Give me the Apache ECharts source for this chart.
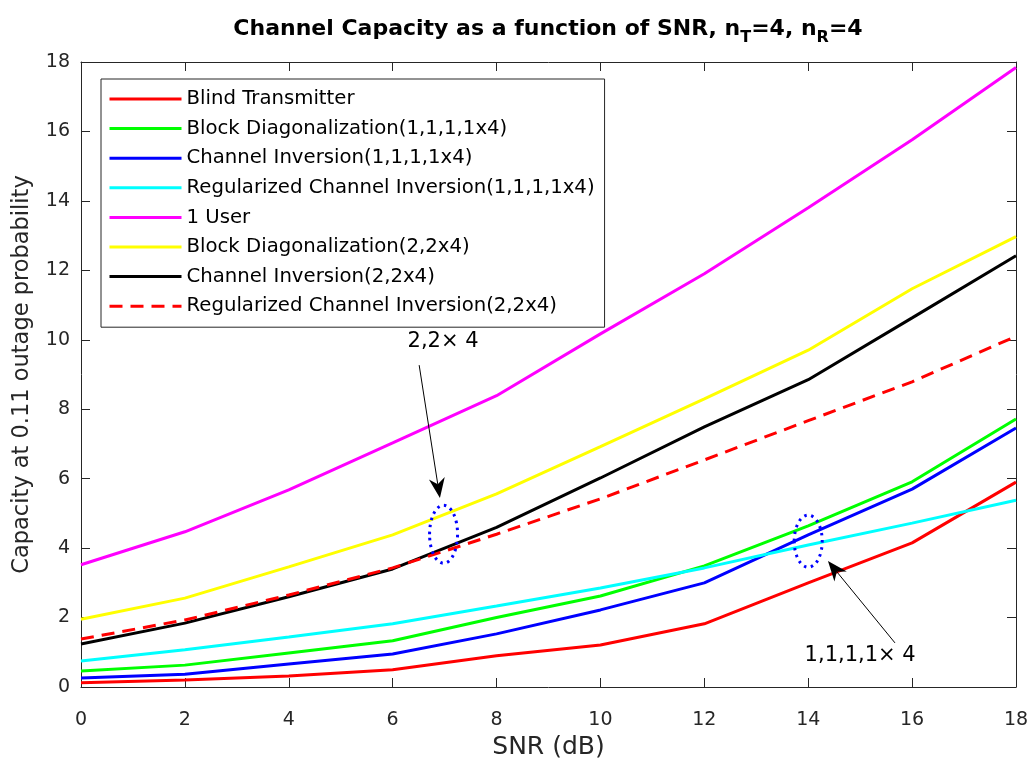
<!DOCTYPE html>
<html>
<head>
<meta charset="utf-8">
<script src="https://cdn.jsdelivr.net/npm/echarts@6/dist/echarts.min.js"></script>
<style>
  html, body { margin: 0; padding: 0; background: #fff; }
  #chart { width: 1031px; height: 762px; }
</style>
</head>
<body>
<div id="chart"></div>
<script>
// SNR in dB
var snr = [0, 2, 4, 6, 8, 10, 12, 14, 16, 18];

var blindTx = [0.12, 0.20, 0.32, 0.50, 0.90, 1.21, 1.82, 3.00, 4.15, 5.90];
var bd1111 = [0.46, 0.63, 0.98, 1.33, 2.00, 2.62, 3.49, 4.64, 5.91, 7.72];
var ci1111 = [0.26, 0.37, 0.66, 0.95, 1.53, 2.22, 3.00, 4.38, 5.70, 7.46];
var rci1111 = [0.75, 1.07, 1.44, 1.82, 2.33, 2.85, 3.43, 4.09, 4.72, 5.38];
var oneUser = [3.52, 4.47, 5.68, 7.03, 8.39, 10.17, 11.90, 13.80, 15.76, 17.84];
var bd22 = [1.95, 2.56, 3.46, 4.38, 5.56, 6.92, 8.30, 9.70, 11.47, 12.97];
var ci22 = [1.24, 1.84, 2.60, 3.40, 4.60, 6.02, 7.49, 8.85, 10.63, 12.42];
var rci22 = [1.38, 1.93, 2.65, 3.43, 4.40, 5.42, 6.54, 7.67, 8.79, 10.10];

var names = [
  "Blind Transmitter",
  "Block Diagonalization(1,1,1,1x4)",
  "Channel Inversion(1,1,1,1x4)",
  "Regularized Channel Inversion(1,1,1,1x4)",
  "1 User",
  "Block Diagonalization(2,2x4)",
  "Channel Inversion(2,2x4)",
  "Regularized Channel Inversion(2,2x4)"
];
var values = [blindTx, bd1111, ci1111, rci1111, oneUser, bd22, ci22, rci22];
var colors = ["#ff0000", "#00ff00", "#0000ff", "#00ffff", "#ff00ff", "#ffff00", "#000000", "#ff0000"];

var axisColor = "#262626";
var fontFam = "'DejaVu Sans', sans-serif";

function pairs(ys) {
  return snr.map(function (x, i) { return [x, ys[i]]; });
}

var series = names.map(function (n, i) {
  return {
    name: n,
    type: "line",
    data: pairs(values[i]),
    symbol: "none",
    showSymbol: false,
    animation: false,
    lineStyle: {
      color: colors[i],
      width: 3,
      type: i === 7 ? [13, 8] : "solid"
    },
    itemStyle: { color: colors[i] }
  };
});

var chart = echarts.init(document.getElementById("chart"));

var subStyle = { fontSize: 16, fontWeight: "bold", fontFamily: fontFam, color: "#000", padding: [18, 0, 0, 0] };

// shared settings for the box axes (top / right copies have no labels)
function boxAxis(extra) {
  var base = {
    type: "value",
    min: 0,
    max: 18,
    interval: 2,
    axisLine: { show: true, onZero: false, lineStyle: { color: axisColor, width: 1 } },
    axisTick: { show: true, inside: true, length: 9, lineStyle: { color: axisColor } },
    splitLine: { show: false }
  };
  return Object.assign(base, extra);
}

var option = {
  backgroundColor: "#fff",
  animation: false,
  title: {
    text: "Channel Capacity as a function of SNR, n{sub|T}=4, n{sub|R}=4",
    left: 543,
    textAlign: "center",
    top: 7,
    textStyle: {
      fontFamily: fontFam,
      fontSize: 22,
      fontWeight: "bold",
      color: "#000",
      rich: { sub: subStyle }
    }
  },
  legend: {
    orient: "vertical",
    left: 101,
    top: 79,
    padding: [10, 10, 11, 7],
    itemWidth: 72,
    itemHeight: 14,
    itemGap: 9.6,
    backgroundColor: "#fff",
    borderColor: axisColor,
    borderWidth: 1,
    borderRadius: 0,
    itemStyle: { color: "transparent", borderWidth: 0 },
    lineStyle: { width: 3 },
    textStyle: { fontFamily: fontFam, fontSize: 19.7, color: "#000", lineHeight: 20 },
    data: names
  },
  grid: { left: 81, right: 15, top: 62, bottom: 75, containLabel: false, outerBoundsMode: "none" },
  xAxis: [
    boxAxis({
      name: "SNR (dB)",
      nameLocation: "middle",
      nameGap: 46,
      nameTextStyle: { fontFamily: fontFam, fontSize: 25, color: axisColor },
      axisLabel: { fontFamily: fontFam, fontSize: 19, color: axisColor, margin: 24 }
    }),
    boxAxis({ position: "top", axisLabel: { show: false } })
  ],
  yAxis: [
    boxAxis({
      name: "Capacity at 0.11 outage probability",
      nameLocation: "middle",
      nameGap: 47,
      nameTextStyle: { fontFamily: fontFam, fontSize: 22.5, color: axisColor },
      axisLabel: { fontFamily: fontFam, fontSize: 19, color: axisColor, margin: 11 }
    }),
    boxAxis({ position: "right", axisLabel: { show: false } })
  ],
  series: series
};

chart.setOption(option);

// annotations, placed in data coordinates
function px(x, y) {
  return chart.convertToPixel({ gridIndex: 0 }, [x, y]);
}

function arrow(from, to) {
  var a = px(from[0], from[1]);
  var b = px(to[0], to[1]);
  var dx = b[0] - a[0], dy = b[1] - a[1];
  var len = Math.sqrt(dx * dx + dy * dy);
  var ux = dx / len, uy = dy / len;
  var headLen = 20, headW = 8;
  var bx = b[0] - ux * headLen, by = b[1] - uy * headLen;
  var nx = -uy, ny = ux;
  var notchX = b[0] - ux * headLen * 0.7, notchY = b[1] - uy * headLen * 0.7;
  return [
    {
      type: "line",
      shape: { x1: a[0], y1: a[1], x2: notchX, y2: notchY },
      style: { stroke: "#000", lineWidth: 1 },
      z: 100
    },
    {
      type: "polygon",
      shape: {
        points: [
          [b[0], b[1]],
          [bx + nx * headW, by + ny * headW],
          [notchX, notchY],
          [bx - nx * headW, by - ny * headW]
        ]
      },
      style: { fill: "#000" },
      z: 100
    }
  ];
}

function ellipse(cx, cy, rx, ry) {
  var c = px(cx, cy);
  return {
    type: "ellipse",
    shape: { cx: c[0], cy: c[1], rx: rx, ry: ry },
    style: { fill: null, stroke: "#0000ff", lineWidth: 3, lineDash: [2.5, 4.5] },
    z: 100
  };
}

function label(x, y, text) {
  var p = px(x, y);
  return {
    type: "text",
    x: p[0],
    y: p[1],
    style: {
      text: text,
      fontFamily: fontFam,
      fontSize: 21,
      fill: "#000",
      align: "center",
      verticalAlign: "middle"
    },
    z: 100
  };
}

var graphics = []
  .concat(arrow([6.51, 9.27], [6.91, 5.44]))
  .concat(arrow([15.67, 1.27], [14.38, 3.63]))
  .concat([
    ellipse(6.98, 4.4, 14, 29),
    ellipse(14.0, 4.2, 14, 26),
    label(6.97, 9.94, "2,2\u00d7 4"),
    label(15.0, 0.92, "1,1,1,1\u00d7 4")
  ]);

chart.setOption({ graphic: graphics });
</script>
</body>
</html>
